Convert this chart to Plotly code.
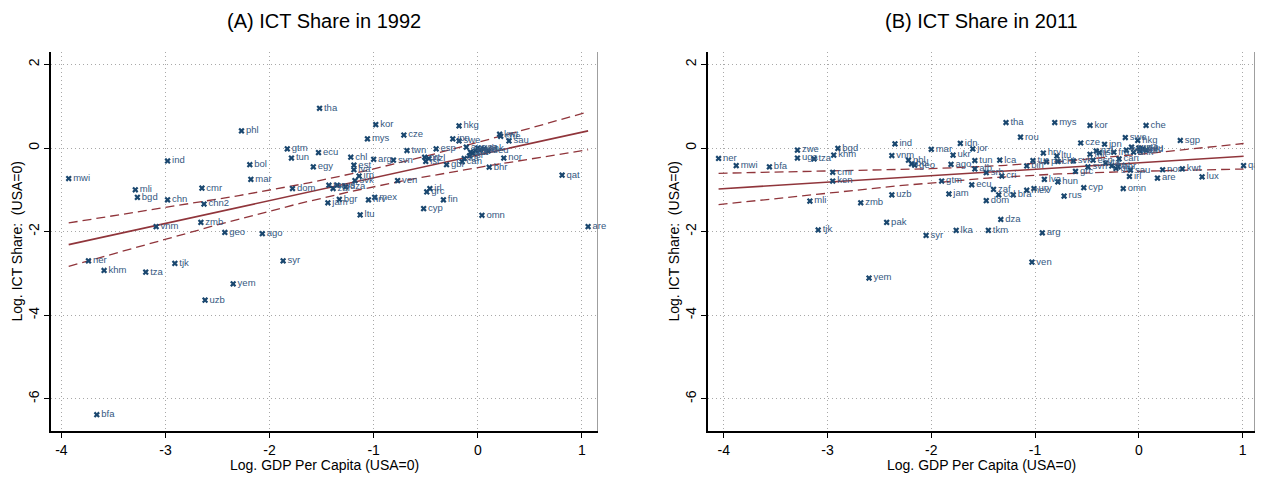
import numpy as np
import plotly.graph_objects as go

# ---------------- data: panel A (1992) ----------------
codes_a = ["mwi", "mli", "bgd", "ind", "chn", "vnm", "ner", "khm", "tza", "tjk", "bfa",
           "cmr", "chn2", "zmb", "uzb", "yem", "geo", "ago", "syr", "phl", "bol", "mar",
           "gtm", "tun", "dom", "egy", "ecu", "tha", "jam", "tur", "zaf", "rus", "bgr",
           "dza", "chl", "est", "lva", "svk", "irn", "ltu", "mys", "hrv", "kor", "arg",
           "mex", "svn", "ven", "cze", "twn", "cyp", "prt", "isr", "grc", "irl", "nzl",
           "esp", "fin", "gbr", "jpn", "hkg", "swe", "can", "ita", "aus", "aut", "fra",
           "bel", "usa", "nld", "dnk", "deu", "isl", "omn", "bhr", "kwt", "che", "nor",
           "sau", "qat", "are"]
gdp_a = [-3.93, -3.29, -3.27, -2.98, -2.98, -3.09, -3.74, -3.59, -3.19, -2.91, -3.66,
         -2.65, -2.63, -2.66, -2.62, -2.35, -2.43, -2.07, -1.87, -2.27, -2.19, -2.18,
         -1.83, -1.79, -1.78, -1.58, -1.53, -1.52, -1.44, -1.43, -1.39, -1.35, -1.33,
         -1.27, -1.22, -1.19, -1.19, -1.18, -1.14, -1.13, -1.06, -1.05, -0.98, -1.00,
         -0.99, -0.81, -0.77, -0.71, -0.68, -0.52, -0.51, -0.50, -0.49, -0.46, -0.47,
         -0.40, -0.33, -0.30, -0.24, -0.18, -0.18, -0.15, -0.13, -0.11, -0.07, -0.05,
         -0.02, 0.00, 0.02, 0.06, 0.10, -0.08, 0.04, 0.11, 0.21, 0.22, 0.25,
         0.30, 0.81, 1.06]
ict_a = [-0.73, -1.00, -1.18, -0.31, -1.24, -1.88, -2.70, -2.93, -2.97, -2.76, -6.38,
         -0.96, -1.34, -1.78, -3.64, -3.25, -2.02, -2.05, -2.70, 0.41, -0.40, -0.75,
         -0.02, -0.24, -0.97, -0.45, -0.11, 0.95, -1.31, -0.89, -0.97, -0.89, -1.23,
         -0.93, -0.22, -0.41, -0.52, -0.78, -0.67, -1.60, 0.22, -1.24, 0.56, -0.27,
         -1.18, -0.29, -0.78, 0.31, -0.06, -1.45, -0.22, -0.32, -1.05, -0.97, -0.25,
         -0.02, -1.24, -0.40, 0.22, 0.53, 0.17, -0.33, -0.25, 0.02, -0.10, -0.12,
         -0.07, 0.00, -0.05, -0.02, -0.07, -0.19, -1.61, -0.46, 0.33, 0.28, -0.24,
         0.17, -0.65, -1.88]

# ---------------- data: panel B (2011) ----------------
codes_b = ["ner", "mwi", "bfa", "zwe", "uga", "tza", "mli", "tjk", "bgd", "khm", "cmr",
           "ken", "zmb", "yem", "pak", "uzb", "vnm", "ind", "phl", "bol", "geo", "syr",
           "mar", "gtm", "jam", "ago", "ukr", "lka", "idn", "ecu", "jor", "tun", "alb",
           "srb", "dom", "tkm", "zaf", "col", "lca", "dza", "cri", "tha", "bra", "rou",
           "mex", "bih", "tur", "ury", "ven", "arg", "hrv", "lva", "pol", "mys", "ltu",
           "hun", "chl", "rus", "svk", "grc", "cze", "cyp", "svn", "mlt", "kor", "esp",
           "nzl", "isr", "jpn", "ita", "fra", "fin", "gbr", "bhr", "can", "omn", "swe",
           "bel", "irl", "sau", "aus", "dnk", "hkg", "usa", "aut", "deu", "nld", "che",
           "are", "nor", "sgp", "kwt", "lux", "qat"]
gdp_b = [-4.05, -3.88, -3.56, -3.29, -3.29, -3.13, -3.17, -3.09, -2.90, -2.94, -2.95,
         -2.95, -2.68, -2.60, -2.43, -2.38, -2.38, -2.35, -2.22, -2.19, -2.16, -2.05,
         -2.00, -1.90, -1.83, -1.81, -1.79, -1.76, -1.72, -1.61, -1.60, -1.58, -1.58,
         -1.47, -1.47, -1.45, -1.40, -1.35, -1.34, -1.33, -1.32, -1.28, -1.21, -1.14,
         -1.08, -1.08, -1.02, -1.01, -1.03, -0.93, -0.92, -0.91, -0.89, -0.81, -0.79,
         -0.78, -0.78, -0.72, -0.63, -0.61, -0.56, -0.53, -0.49, -0.47, -0.47, -0.44,
         -0.41, -0.38, -0.33, -0.32, -0.24, -0.26, -0.22, -0.20, -0.19, -0.15, -0.13,
         -0.12, -0.09, -0.08, -0.07, -0.05, -0.01, 0.00, 0.01, 0.04, 0.07, 0.07,
         0.18, 0.23, 0.40, 0.42, 0.61, 1.01]
ict_b = [-0.25, -0.42, -0.45, -0.05, -0.24, -0.26, -1.27, -1.96, -0.01, -0.17, -0.58,
         -0.79, -1.31, -3.11, -1.78, -1.12, -0.18, 0.10, -0.29, -0.38, -0.41, -2.09,
         -0.03, -0.79, -1.10, -0.39, -0.17, -1.97, 0.11, -0.88, -0.02, -0.30, -0.50,
         -0.59, -1.26, -1.97, -0.99, -1.12, -0.29, -1.71, -0.67, 0.61, -1.12, 0.26,
         -1.01, -0.43, -0.30, -0.97, -2.73, -2.03, -0.12, -0.75, -0.33, 0.61, -0.19,
         -0.81, -0.32, -1.15, -0.31, -0.56, 0.12, -0.95, -0.45, -0.15, 0.54, -0.29,
         -0.07, -0.11, 0.09, -0.36, -0.10, -0.43, -0.49, -0.45, -0.26, -0.97, 0.25,
         -0.05, -0.68, -0.53, 0.02, -0.10, 0.18, 0.00, -0.07, -0.02, -0.05, 0.54,
         -0.72, -0.52, 0.18, -0.50, -0.69, -0.42]

# ---------------- labels / ticks ----------------
panel_titles = ["(A) ICT Share in 1992", "(B) ICT Share in 2011"]
x_title = "Log. GDP Per Capita (USA=0)"
y_title = "Log. ICT Share:  (USA=0)"
x_ticks = [-4, -3, -2, -1, 0, 1]
x_ticktext = ["-4", "-3", "-2", "-1", "0", "1"]
y_ticks = [2, 0, -2, -4, -6]
y_ticktext = ["2", "0", "-2", "-4", "-6"]

MARK = "#1a476f"
LBL = "#34587f"
FIT = "#90353b"
FONT = "Liberation Sans, Arial, sans-serif"

# page body has an 8px margin: the figure is drawn 8px right/down of the viewport corner
OFF = 8
WT, HT = 1263, 478
W, H = WT - OFF, HT - OFF


def px(p):
    return (p - OFF) / W


def py(p):
    return 1 - (p - OFF) / H


def lfitci(x, y, npts=120):
    """OLS fit with 95% confidence band for the mean (like Stata's lfitci)."""
    x = np.asarray(x, float)
    y = np.asarray(y, float)
    n = len(x)
    b, a = np.polyfit(x, y, 1)
    s = np.sqrt(np.sum((y - (a + b * x)) ** 2) / (n - 2))
    xm = x.mean()
    sxx = np.sum((x - xm) ** 2)
    xs = np.linspace(x.min(), x.max(), npts)
    yh = a + b * xs
    se = s * np.sqrt(1.0 / n + (xs - xm) ** 2 / sxx)
    t = 1.99
    return xs, yh, yh - t * se, yh + t * se


fig = go.Figure()

panels = [(codes_a, gdp_a, ict_a, "x", "y"), (codes_b, gdp_b, ict_b, "x2", "y2")]
for codes, gx, iy, xa, ya in panels:
    xs, yh, lo, hi = lfitci(gx, iy)
    for yy in (lo, hi):
        fig.add_trace(go.Scatter(x=xs, y=yy, mode="lines", xaxis=xa, yaxis=ya,
                                 line=dict(color=FIT, width=1.3, dash="9px,5px"),
                                 hoverinfo="skip"))
    fig.add_trace(go.Scatter(x=xs, y=yh, mode="lines", xaxis=xa, yaxis=ya,
                             line=dict(color=FIT, width=1.6), hoverinfo="skip"))
    fig.add_trace(go.Scatter(x=gx, y=iy, text=codes, mode="markers+text",
                             xaxis=xa, yaxis=ya, textposition="middle right",
                             cliponaxis=False,
                             textfont=dict(family=FONT, size=9.5, color=LBL),
                             marker=dict(symbol="x", size=5.5, color=MARK,
                                         line=dict(width=0))))

axis_common = dict(showgrid=True, gridcolor="#a8a8a8", griddash="1px,3px", gridwidth=1,
                   zeroline=False, showline=True, linecolor="black", linewidth=1.5,
                   ticks="outside", ticklen=5, tickcolor="black", tickwidth=1,
                   tickfont=dict(family=FONT, size=14, color="black"))

ydom = [py(431), py(52)]
xdom_a = [px(51), px(598)]
xdom_b = [px(708), px(1255)]
xr_a = [-4.10, 1.155]
xr_b = [-4.152, 1.12]
yr = [-6.77, 2.297]

xt = dict(tickvals=x_ticks, ticktext=x_ticktext)
yt = dict(tickvals=y_ticks, ticktext=y_ticktext, tickangle=-90)

fig.update_layout(
    width=W, height=H, margin=dict(l=0, r=0, t=0, b=0),
    paper_bgcolor="white", plot_bgcolor="white", showlegend=False,
    xaxis=dict(domain=xdom_a, range=xr_a, anchor="y", **xt, **axis_common),
    yaxis=dict(domain=ydom, range=yr, anchor="x", **yt, **axis_common),
    xaxis2=dict(domain=xdom_b, range=xr_b, anchor="y2", **xt, **axis_common),
    yaxis2=dict(domain=ydom, range=yr, anchor="x2", **yt, **axis_common),
)

# right-hand gray frame lines
for xa, ya, xr in (("x", "y", xr_a), ("x2", "y2", xr_b)):
    fig.add_shape(type="line", xref=xa, yref=ya, x0=xr[1], x1=xr[1], y0=yr[0], y1=yr[1],
                  line=dict(color="#7f7f7f", width=1.5))

annotations = []
for title, (l, r) in zip(panel_titles, ((51, 598), (708, 1255))):
    cx = px((l + r) / 2)
    annotations.append(dict(text=title, x=cx, y=py(21), xref="paper", yref="paper",
                            showarrow=False, xanchor="center", yanchor="middle",
                            font=dict(family=FONT, size=20, color="black")))
    annotations.append(dict(text=x_title, x=cx, y=py(465), xref="paper",
                            yref="paper", showarrow=False, xanchor="center",
                            yanchor="middle",
                            font=dict(family=FONT, size=14, color="black")))
    annotations.append(dict(text=y_title, x=px(l - 35), y=py((52 + 431) / 2),
                            xref="paper", yref="paper", showarrow=False, textangle=-90,
                            xanchor="center", yanchor="middle",
                            font=dict(family=FONT, size=14, color="black")))
fig.update_layout(annotations=annotations)

fig.write_html("out.html")
